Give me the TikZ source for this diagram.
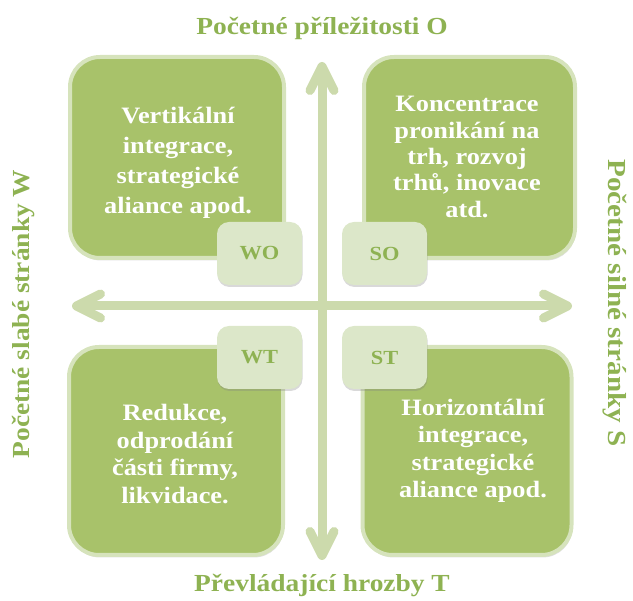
\documentclass[tikz,border=0pt]{standalone}
\usepackage{fontspec}
\setmainfont{Liberation Serif}[FakeStretch=1.12]
\usepackage{tikz}
\usetikzlibrary{shapes,arrows.meta,shadows}
\definecolor{leaf}{RGB}{168,194,106}
\definecolor{rim}{RGB}{214,227,188}
\definecolor{pale}{RGB}{220,231,201}
\definecolor{stem}{RGB}{204,218,172}
\definecolor{moss}{RGB}{142,178,82}
\tikzstyle{block} = [draw=rim, fill=leaf, line width=4pt, rounded corners=30pt,
    drop shadow={opacity=0.25, shadow xshift=1pt, shadow yshift=-2.5pt}]
\tikzstyle{blocktext} = [text=white, align=center, inner sep=0pt]
\tikzstyle{tab} = [fill=pale, rounded corners=12pt, minimum width=85pt,
    minimum height=63pt, text=moss, font=\bfseries\fontsize{20}{24}\selectfont,
    drop shadow={opacity=0.3, shadow xshift=0.5pt, shadow yshift=-2pt}]
\tikzstyle{heading} = [text=moss, font=\bfseries\fontsize{24.5}{28}\selectfont]
\tikzstyle{axis} = [draw=stem, line width=9pt,
    {Straight Barb[length=24pt,width=24pt,round]}-{Straight Barb[length=24pt,width=24pt,round]},
    preaction={draw=black, opacity=0.08, transform canvas={yshift=-1.5pt}}]

\begin{document}
\begin{tikzpicture}[x=1pt, y=-1pt]
    \useasboundingbox (0,0) rectangle (633,601);

    % The two axes go first, the blocks sit on top of them
    \coordinate (west) at (72,306);
    \coordinate (east) at (572,306);
    \coordinate (north) at (322,62);
    \coordinate (south) at (322,560);
    \draw [axis] (west) -- (east);
    \draw [axis] (south) -- (north);

    % We place the four blocks
    \node [block, minimum width=214pt, minimum height=201pt] (wo) at (177,157.5) {};
    \node [block, minimum width=211pt, minimum height=201pt] (so) at (469.5,157.5) {};
    \node [block, minimum width=214pt, minimum height=208pt] (wt) at (176,451) {};
    \node [block, minimum width=209pt, minimum height=208pt] (st) at (467,451) {};

    % Their texts, a little off the centres
    \node [blocktext, font=\bfseries\fontsize{23.5}{30}\selectfont] (wotext) at (178,163)
        {Vertikální\\integrace,\\strategické\\aliance apod.};
    \node [blocktext, font=\bfseries\fontsize{23.5}{26.3}\selectfont] (sotext) at (467,157)
        {Koncentrace\\pronikání na\\trh, rozvoj\\trhů, inovace\\atd.};
    \node [blocktext, font=\bfseries\fontsize{23.5}{27.5}\selectfont] (wttext) at (175,454)
        {Redukce,\\odprodání\\části firmy,\\likvidace.};
    \node [blocktext, font=\bfseries\fontsize{23.5}{27.5}\selectfont] (sttext) at (473,451)
        {Horizontální\\integrace,\\strategické\\aliance apod.};

    % Small tabs on the inner corners
    \node [tab] (wotab) at (259.5,253.5) {WO};
    \node [tab] (sotab) at (384.5,253.5) {SO};
    \node [tab] (wttab) at (259.5,357.5) {WT};
    \node [tab] (sttab) at (384.5,357.5) {ST};

    % Labels of the axes
    \node [heading] (opp) at (322,28) {Početné příležitosti O};
    \node [heading] (thr) at (322,586) {Převládající hrozby T};
    \node [heading, rotate=90] (weak) at (24,314) {Početné slabé stránky W};
    \node [heading, rotate=-90, font=\bfseries\fontsize{26}{28}\selectfont] (strong) at (615,303)
        {Početné silné stránky S};
\end{tikzpicture}
\end{document}
